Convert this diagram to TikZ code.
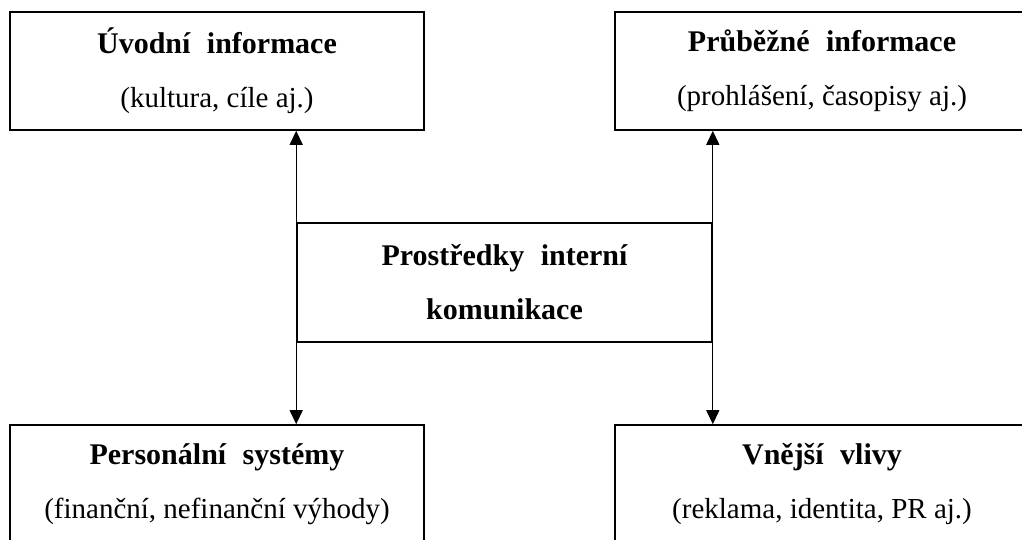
\documentclass[tikz,border=0pt]{standalone}
\usepackage{fontspec}
\setmainfont{Liberation Serif}[BoldFeatures={WordSpace=2.2}]
\usetikzlibrary{arrows.meta}
\newcommand{\boxtitle}[1]{{\fontsize{30}{54}\selectfont\bfseries #1}}

\begin{document}
\begin{tikzpicture}[x=1pt, y=-1pt,
  box/.style={draw, line width=1.6pt, minimum width=414pt, minimum height=118pt, inner sep=0pt,
    align=center, font=\fontsize{29}{54}\selectfont},
  link/.style={{Triangle[length=14pt,width=13pt]}-{Triangle[length=14pt,width=13pt]}, line width=1.3pt}]
\useasboundingbox (0,0) rectangle (1022,540);
\clip (0,0) rectangle (1022,540);
% outer boxes
\node[box] (uvod) at (217,71) {\boxtitle{Úvodní informace}\\(kultura, cíle aj.)};
\node[box] (prubez) at (822,71) {\boxtitle{Průběžné informace}\\(prohlášení, časopisy aj.)};
\node[box] (person) at (217,484) {\boxtitle{Personální systémy}\\(finanční, nefinanční výhody)};
\node[box] (vnejsi) at (822,484) {\boxtitle{Vnější vlivy}\\(reklama, identita, PR aj.)};
% centre
\node[box, minimum width=415pt, minimum height=119pt] (prostr) at (504.5,282.5)
  {\boxtitle{Prostředky interní}\\\boxtitle{komunikace}};
\draw[link] (uvod.south -| prostr.west) -- (person.north -| prostr.west);
\draw[link] (prubez.south -| prostr.east) -- (vnejsi.north -| prostr.east);
\end{tikzpicture}
\end{document}
